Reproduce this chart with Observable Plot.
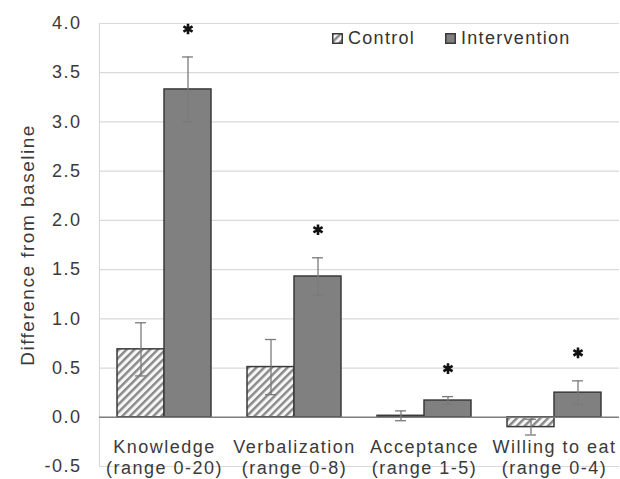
<!DOCTYPE html>
<html>
<head>
<meta charset="utf-8">
<script src="https://cdn.jsdelivr.net/npm/d3@7"></script>
<script src="https://cdn.jsdelivr.net/npm/@observablehq/plot@0.6"></script>
<style>
  html, body { margin: 0; padding: 0; background: #fff; }
  #wrap { position: relative; width: 620px; height: 479px; font-family: "Liberation Sans", Arial, sans-serif; }
  #wrap svg text { letter-spacing: 1.5px; }
  #wrap g[aria-label="y-title"] text { letter-spacing: 2.6px; }
  .legend-item { position: absolute; top: 28px; display: flex; align-items: center; font-size: 18px; letter-spacing: 1.3px; color: #333; line-height: 20px; }
  .legend-item svg { margin-right: 5px; }
</style>
</head>
<body>
<div id="wrap"></div>
<script>
const categories = ["Knowledge", "Verbalization", "Acceptance", "Willing to eat"];
const ranges = ["(range 0-20)", "(range 0-8)", "(range 1-5)", "(range 0-4)"];
const seriesNames = ["Control", "Intervention"];
const controlMean = [0.69, 0.51, 0.015, -0.10];
const controlSE = [0.27, 0.28, 0.05, 0.08];
const interventionMean = [3.33, 1.43, 0.17, 0.25];
const interventionSE = [0.33, 0.19, 0.04, 0.12];
const interventionSignificant = [true, true, true, true];
const yTicks = [-0.5, 0, 0.5, 1, 1.5, 2, 2.5, 3, 3.5, 4];
const yLabel = "Difference from baseline";

const W = 0.3615; // bar width in category units
const rows = categories.flatMap((c, i) => [
  {category: c, i, series: seriesNames[0], mean: controlMean[i], se: controlSE[i], sig: false},
  {category: c, i, series: seriesNames[1], mean: interventionMean[i], se: interventionSE[i], sig: interventionSignificant[i]}
]);
const isCtrl = d => d.series === seriesNames[0];
const center = d => d.i + (isCtrl(d) ? -W / 2 : W / 2);
const ctrlRows = rows.filter(isCtrl);
const intRows = rows.filter(d => !isCtrl(d));
const labelRows = categories.map((c, i) => ({i, label: c + "\n" + ranges[i]}));

const chart = Plot.plot({
  width: 620,
  height: 479,
  marginLeft: 99,
  marginRight: 1,
  marginTop: 23,
  marginBottom: 13,
  style: {fontFamily: '"Liberation Sans", Arial, sans-serif', fontSize: "18px", color: "#3a3a3a", background: "#fff"},
  x: {domain: [-0.5, 3.5], axis: null},
  y: {domain: [-0.5, 4], axis: null},
  marks: [
    Plot.gridY(yTicks, {stroke: "#d9d9d9", strokeOpacity: 1, strokeWidth: 1.2}),
    Plot.ruleX([-0.5], {stroke: "#d9d9d9", strokeWidth: 1.2}),
    Plot.axisY(yTicks, {tickSize: 0, tickPadding: 18, fontSize: 18, fill: "#3a3a3a", label: null, tickFormat: d => d.toFixed(1)}),
    Plot.text([yLabel], {frameAnchor: "left", textAnchor: "middle", dx: -72, rotate: -90, fontSize: 19, fill: "#3a3a3a", ariaLabel: "y-title"}),
    Plot.rectY(ctrlRows, {x1: d => d.i - W, x2: d => d.i, y1: 0, y2: "mean", fill: "url(#hatch)", stroke: "#3a3a3a", strokeWidth: 1.5}),
    Plot.rectY(intRows, {x1: d => d.i, x2: d => d.i + W, y1: 0, y2: "mean", fill: "#808080", stroke: "#3a3a3a", strokeWidth: 1.5}),
    Plot.ruleY([0], {stroke: "#7f7f7f", strokeWidth: 1.5}),
    Plot.ruleX(rows, {x: center, y1: d => d.mean - d.se, y2: d => d.mean + d.se, stroke: "#7a7a7a", strokeWidth: 1.3}),
    Plot.ruleY(rows, {x1: d => center(d) - 0.042, x2: d => center(d) + 0.042, y: d => d.mean + d.se, stroke: "#7a7a7a", strokeWidth: 1.3}),
    Plot.ruleY(rows, {x1: d => center(d) - 0.042, x2: d => center(d) + 0.042, y: d => d.mean - d.se, stroke: "#7a7a7a", strokeWidth: 1.3}),
    Plot.dot(intRows.filter(d => d.sig), {x: center, y: d => d.mean + d.se, dy: -28, symbol: "asterisk", r: 5, stroke: "#111", strokeWidth: 2.6}),
    Plot.text(labelRows, {x: "i", y: () => 0, text: "label", lineAnchor: "top", dy: 21, fontSize: 18, lineHeight: 1.15, fill: "#3a3a3a"})
  ]
});

// hatch pattern for the Control bars
const ns = "http://www.w3.org/2000/svg";
const defs = document.createElementNS(ns, "defs");
defs.innerHTML = '<pattern id="hatch" patternUnits="userSpaceOnUse" width="5.5" height="5.5" patternTransform="rotate(45)">' +
  '<rect width="5.5" height="5.5" fill="#f6f6f6"></rect><rect width="2.4" height="5.5" fill="#888888"></rect></pattern>';
chart.insertBefore(defs, chart.firstChild);

const wrap = document.getElementById("wrap");
wrap.appendChild(chart);

// legend inside plot area
const legendFills = ["url(#hatch)", "#808080"];
const legendLeft = [332, 445];
seriesNames.forEach((name, k) => {
  const item = document.createElement("div");
  item.className = "legend-item";
  item.style.left = legendLeft[k] + "px";
  item.innerHTML = '<svg width="11" height="11"><rect x="0.75" y="0.75" width="9.5" height="9.5" fill="' + legendFills[k] + '" stroke="#3a3a3a" stroke-width="1.5"></rect></svg>';
  const span = document.createElement("span");
  span.textContent = name;
  item.appendChild(span);
  wrap.appendChild(item);
});
</script>
</body>
</html>
